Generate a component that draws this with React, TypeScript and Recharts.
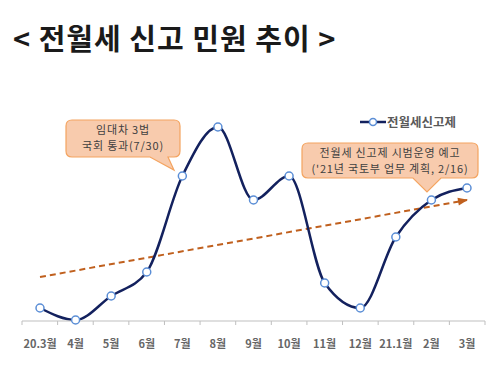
import { LineChart, Line, XAxis, YAxis, Customized } from "recharts";

const months = ["20.3월", "4월", "5월", "6월", "7월", "8월", "9월", "10월", "11월", "12월", "21.1월", "2월", "3월"];
const reports = [13, 1, 25, 49, 145, 194, 121, 145, 38, 13, 84, 121, 133];
const trend = [44, null, null, null, null, null, null, null, null, null, null, null, 121];

const data = months.map((m, i) => ({ month: m, reports: reports[i], trend: trend[i] }));

const FONT = "'Noto Sans CJK KR', 'Noto Sans', sans-serif";
const NAVY = "#13215E";
const MARKER = "#5B8ED6";
const ORANGE = "#C0601E";

// plot geometry (matches chart margin below)
const PLOT_LEFT = 22;
const PLOT_RIGHT = 485;
const AXIS_Y = 321;

const ArrowDot = (props: any) => {
  const { cx, cy, index } = props;
  if (index !== data.length - 1 || cx == null) return <g key={`a${index}`} />;
  return (
    <polygon
      key={`a${index}`}
      points="-9,-4 1,0 -9,4"
      fill={ORANGE}
      transform={`translate(${cx},${cy}) rotate(-10.4)`}
    />
  );
};

const Callouts = () => {
  const boundaries = Array.from({ length: months.length + 1 }, (_, i) => PLOT_LEFT + ((PLOT_RIGHT - PLOT_LEFT) * i) / months.length);
  const text = { fontFamily: FONT, fontSize: 11, fill: "#404040", textAnchor: "middle" as const, letterSpacing: 0.8 };
  return (
    <g>
      {boundaries.map((x, i) => (
        <line key={i} x1={x} x2={x} y1={AXIS_Y} y2={AXIS_Y + 4} stroke="#BFBFBF" />
      ))}
      {/* legend */}
      <line x1={360} x2={386} y1={122} y2={122} stroke={NAVY} strokeWidth={2.5} />
      <circle cx={373} cy={122} r={3.5} fill="#fff" stroke={MARKER} strokeWidth={1.5} />
      <text x={387} y={126.5} fontFamily={FONT} fontSize={12.5} fontWeight={700} fill="#595959">전월세신고제</text>
      <path
        d="M72,120 H174 Q180,120 180,126 V151 Q180,157 174,157 H168 L174,170 L150,157 H72 Q66,157 66,151 V126 Q66,120 72,120 Z"
        fill="#F8CBAD"
        stroke="#F4A460"
        strokeWidth={1.2}
      />
      <text x={123} y={134} {...text}>임대차 3법</text>
      <text x={123} y={150} {...text}>국회 통과(7/30)</text>
      <path
        d="M308,143 H472 Q478,143 478,149 V172 Q478,178 472,178 H441 L427,192 L413,178 H308 Q302,178 302,172 V149 Q302,143 308,143 Z"
        fill="#F8CBAD"
        stroke="#F4A460"
        strokeWidth={1.2}
      />
      <text x={390} y={156.5} {...text}>전월세 신고제 시범운영 예고</text>
      <text x={390} y={172.5} {...text}>('21년 국토부 업무 계획, 2/16)</text>
    </g>
  );
};

export default function App() {
  return (
    <div style={{ position: "absolute", left: 0, top: 0, width: 501, height: 365, background: "#fff" }}>
      <div
        style={{
          position: "absolute",
          left: 13,
          top: 16,
          fontFamily: FONT,
          fontWeight: 700,
          fontSize: 29,
          color: "#1a1a1a",
          whiteSpace: "nowrap",
          letterSpacing: 1,
        }}
      >
        &lt; 전월세 신고 민원 추이 &gt;
      </div>
      <LineChart width={501} height={365} data={data} margin={{ top: 121, right: 16, bottom: 14, left: 22 }}>
        <XAxis
          dataKey="month"
          padding={{ left: 18, right: 18 }}
          height={30}
          axisLine={{ stroke: "#BFBFBF" }}
          tickLine={false}
          tickMargin={13}
          interval={0}
          tick={{ fontSize: 11, fill: "#666666", fontFamily: FONT, fontWeight: 700 }}
        />
        <YAxis hide domain={[0, 200]} />
        <Customized component={<Callouts />} />
        <Line
          dataKey="trend"
          connectNulls
          stroke={ORANGE}
          strokeWidth={2}
          strokeDasharray="6 4"
          dot={<ArrowDot />}
          activeDot={false}
          isAnimationActive={false}
          legendType="none"
        />
        <Line
          type="monotone"
          dataKey="reports"
          name="전월세신고제"
          stroke={NAVY}
          strokeWidth={2.5}
          dot={{ r: 4, fill: "#fff", stroke: MARKER, strokeWidth: 1.5 }}
          activeDot={false}
          isAnimationActive={false}
        />
      </LineChart>
    </div>
  );
}
